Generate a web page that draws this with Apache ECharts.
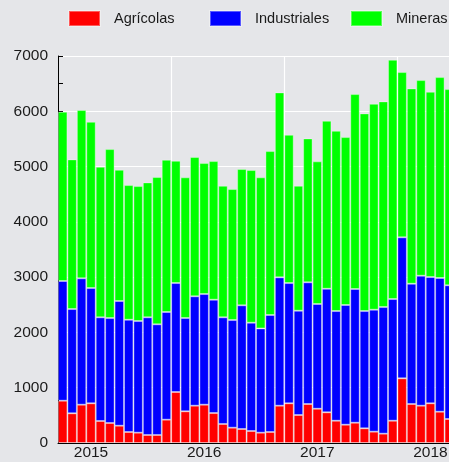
<!DOCTYPE html>
<html>
<head>
<meta charset="utf-8">
<script src="https://cdn.jsdelivr.net/npm/echarts@6/dist/echarts.min.js"></script>
<style>
  html, body { margin: 0; padding: 0; overflow: hidden; background: #e5e6e9; }
  #chart { width: 470px; height: 462px; }
</style>
</head>
<body>
<div id="chart"></div>
<script>
// monthly, Oct 2014 .. Mar 2018
const months = []
for (let y = 2014, m = 10; months.length < 42; m++) {
  if (m > 12) { m = 1; y++ }
  months.push(y + '-' + String(m).padStart(2, '0'))
}
const yearTicks = ['2015', '2016', '2017', '2018']
const seriesNames = ['Agrícolas', 'Industriales', 'Mineras']

const agricolas = [765, 537, 693, 718, 398, 362, 313, 199, 187, 145, 145, 422,
  922, 573, 675, 693, 542, 344, 277, 253, 217, 187, 199, 675,
  718, 506, 705, 620, 555, 403, 331, 367, 265, 205, 169, 403,
  1170, 705, 675, 718, 566, 434]
const industriales = [2165, 1886, 2285, 2085, 1875, 1898, 2255, 2031, 2019, 2128, 2001, 1947,
  1971, 1687, 1978, 2001, 2050, 1929, 1947, 2237, 1959, 1886, 2116, 2321,
  2175, 1887, 2201, 1894, 2235, 1984, 2165, 2418, 2122, 2206, 2290, 2201,
  2550, 2176, 2351, 2284, 2418, 2418]
const mineras = [3063, 2707, 3044, 3007, 2724, 3056, 2374, 2435, 2441, 2441, 2664, 2754,
  2212, 2545, 2519, 2369, 2507, 2380, 2369, 2465, 2761, 2732, 2965, 3346,
  2682, 2260, 2604, 2580, 3038, 3260, 3037, 3526, 3575, 3725, 3720, 4328,
  2989, 3533, 3538, 3351, 3634, 3549]

const font = 'Liberation Sans, Arial, sans-serif'
const border = { borderColor: 'rgba(255,255,255,0.35)', borderWidth: 1 }

function bar (name, data, color) {
  return {
    name: name,
    type: 'bar',
    stack: 'total',
    barCategoryGap: '0%',
    itemStyle: Object.assign({ color: color }, border),
    data: data
  }
}

// one legend per entry so the columns keep an even spacing
const legends = seriesNames.map((name, i) => ({
  left: 68 + i * 141,
  top: 10,
  padding: 0,
  itemWidth: 31,
  itemHeight: 15,
  icon: 'rect',
  textStyle: { fontFamily: font, fontSize: 14.5, color: '#1a1a1a', padding: [0, 0, 0, 9] },
  data: [name]
}))

const chart = echarts.init(document.getElementById('chart'), null, { renderer: 'canvas' })
chart.setOption({
  backgroundColor: '#e5e6e9',
  animation: false,
  legend: legends,
  grid: { left: 58, top: 56, width: 396, height: 387 },
  xAxis: {
    type: 'category',
    data: months,
    axisLine: { lineStyle: { color: '#000', width: 1 } },
    axisTick: {
      inside: true,
      length: 3,
      lineStyle: { color: '#000' },
      interval: (i) => i % 12 === 0 || i % 12 === 3
    },
    axisLabel: {
      interval: (i) => i % 12 === 3,
      formatter: (v) => yearTicks[Math.floor((months.indexOf(v) - 3) / 12)],
      fontFamily: font,
      fontSize: 15.5,
      color: '#1a1a1a',
      margin: 2
    },
    splitLine: {
      show: true,
      interval: (i) => i > 0 && i % 12 === 0,
      lineStyle: { color: '#ffffff', width: 1.2 }
    }
  },
  yAxis: {
    type: 'value',
    min: 0,
    max: 7000,
    interval: 1000,
    axisLine: { show: true, lineStyle: { color: '#000', width: 1 } },
    axisTick: { show: true, inside: true, length: 5, lineStyle: { color: '#000' } },
    minorTick: { show: true, splitNumber: 2, length: 5, lineStyle: { color: '#000' } },
    axisLabel: {
      formatter: (v) => String(v),
      fontFamily: font,
      fontSize: 15.5,
      color: '#1a1a1a',
      margin: 10
    },
    splitLine: { show: true, lineStyle: { color: '#ffffff', width: 1.2 } }
  },
  series: [
    bar(seriesNames[0], agricolas, '#ff0000'),
    bar(seriesNames[1], industriales, '#0000ff'),
    bar(seriesNames[2], mineras, '#00ff00')
  ]
})
</script>
</body>
</html>
